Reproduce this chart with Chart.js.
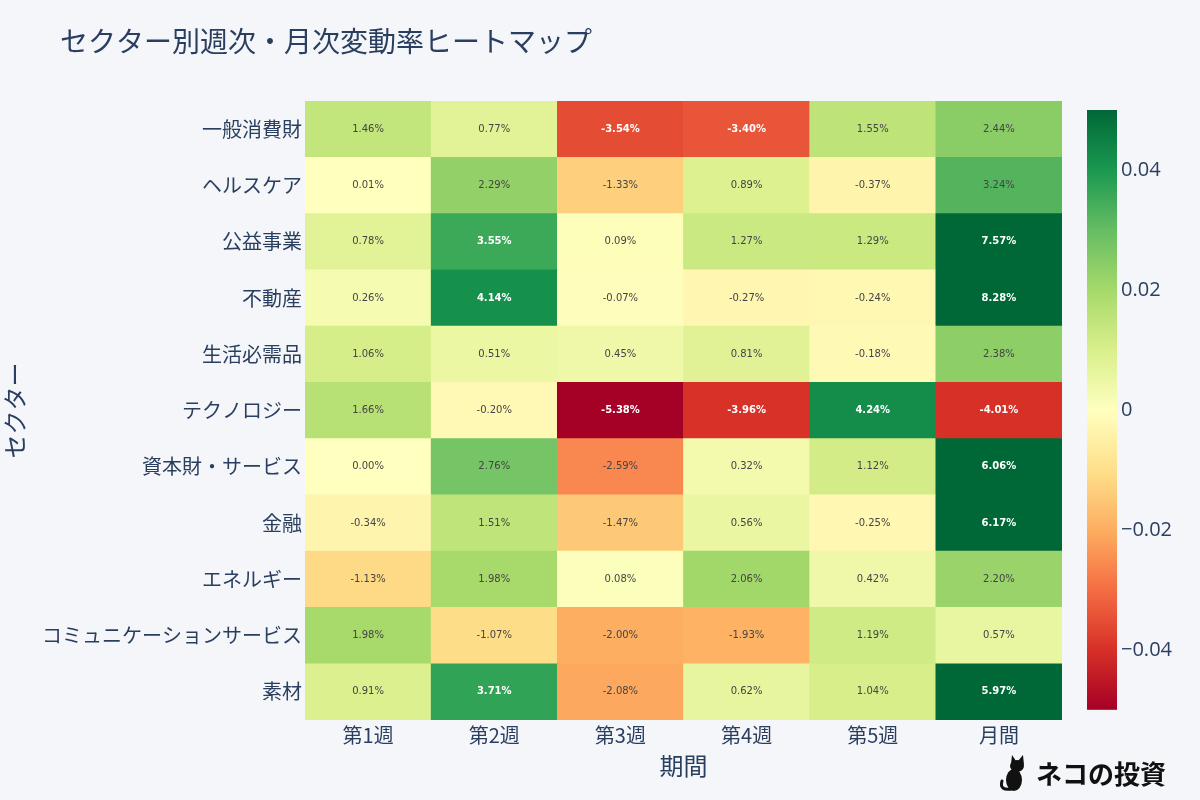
<!DOCTYPE html>
<html lang="ja">
<head>
<meta charset="utf-8">
<title>セクター別週次・月次変動率ヒートマップ</title>
<script src="https://cdn.jsdelivr.net/npm/chart.js@4.4.1/dist/chart.umd.min.js"></script>
<style>
  html, body { margin: 0; padding: 0; background: #f4f6fa; }
  #wrap { width: 1200px; height: 800px; }
</style>
</head>
<body>
<div id="wrap"><canvas id="heat" width="1200" height="800"></canvas></div>
<script>
// ── DATA ───────────────────────────────────────────────────────
const periods = ['第1週', '第2週', '第3週', '第4週', '第5週', '月間'];
const sectors = ['一般消費財', 'ヘルスケア', '公益事業', '不動産', '生活必需品', 'テクノロジー',
  '資本財・サービス', '金融', 'エネルギー', 'コミュニケーションサービス', '素材'];   // top → bottom

// % change per period, same order as sectors
const week1   = [1.46, 0.01, 0.78, 0.26, 1.06, 1.66, 0.00, -0.34, -1.13, 1.98, 0.91];
const week2   = [0.77, 2.29, 3.55, 4.14, 0.51, -0.20, 2.76, 1.51, 1.98, -1.07, 3.71];
const week3   = [-3.54, -1.33, 0.09, -0.07, 0.45, -5.38, -2.59, -1.47, 0.08, -2.00, -2.08];
const week4   = [-3.40, 0.89, 1.27, -0.27, 0.81, -3.96, 0.32, 0.56, 2.06, -1.93, 0.62];
const week5   = [1.55, -0.37, 1.29, -0.24, -0.18, 4.24, 1.12, -0.25, 0.42, 1.19, 1.04];
const monthly = [2.44, 3.24, 7.57, 8.28, 2.38, -4.01, 6.06, 6.17, 2.20, 0.57, 5.97];

const colorTicks      = [0.04, 0.02, 0, -0.02, -0.04];
const colorTickLabels = ['0.04', '0.02', '0', '−0.02', '−0.04'];
const zMin = -0.05, zMax = 0.05;

// ── COLOURS ────────────────────────────────────────────────────
const INK = '#2a3f5f';
const FONT = '"Noto Sans CJK JP", "Open Sans", sans-serif';
const RDYLGN = [
  [165, 0, 38], [215, 48, 39], [244, 109, 67], [253, 174, 97], [254, 224, 139], [255, 255, 191],
  [217, 239, 139], [166, 217, 106], [102, 189, 99], [26, 152, 80], [0, 104, 55]
];

function heatRgb(pct) {
  let t = (pct / 100 - zMin) / (zMax - zMin);
  t = Math.max(0, Math.min(1, t)) * (RDYLGN.length - 1);
  const i = Math.min(Math.floor(t), RDYLGN.length - 2), f = t - i;
  return RDYLGN[i].map((c, k) => Math.round(c + (RDYLGN[i + 1][k] - c) * f));
}
const heatColor = v => { const [r, g, b] = heatRgb(v); return `rgb(${r},${g},${b})`; };
const isDark = v => { const [r, g, b] = heatRgb(v); return 0.299 * r + 0.587 * g + 0.114 * b < 135; };

// ── DATASETS (one per row, bottom row first) ───────────────────
const columns = [week1, week2, week3, week4, week5, monthly];
const rowOrder = sectors.map((_, i) => sectors.length - 1 - i);
const datasets = rowOrder.map(r => {
  const rates = columns.map(c => c[r]);
  return {
    label: sectors[r],
    rates,
    data: rates.map(() => 1),
    backgroundColor: rates.map(heatColor),
    borderWidth: 0,
    barPercentage: 1,
    categoryPercentage: 1
  };
});

// ── PLUGINS ────────────────────────────────────────────────────
const cellText = {
  id: 'cellText',
  afterDatasetsDraw(chart) {
    const ctx = chart.ctx;
    ctx.save();
    ctx.textAlign = 'center';
    ctx.textBaseline = 'middle';
    chart.data.datasets.forEach((ds, di) => {
      chart.getDatasetMeta(di).data.forEach((bar, j) => {
        const v = ds.rates[j];
        const dark = isDark(v);
        ctx.font = (dark ? 'bold ' : '') + '10px "DejaVu Sans", Verdana, sans-serif';
        ctx.fillStyle = dark ? '#ffffff' : '#444444';
        ctx.fillText(v.toFixed(2) + '%', bar.x, (bar.y + bar.base) / 2);
      });
    });
    ctx.restore();
  }
};

const colorBar = {
  id: 'colorBar',
  afterDraw(chart) {
    const ctx = chart.ctx, s = chart.scales.cb;
    const top = s.getPixelForValue(zMax), bottom = s.getPixelForValue(zMin);
    const grad = ctx.createLinearGradient(0, bottom, 0, top);
    RDYLGN.forEach((c, i) => grad.addColorStop(i / (RDYLGN.length - 1), `rgb(${c.join(',')})`));
    ctx.save();
    ctx.fillStyle = grad;
    ctx.fillRect(1087, top, 30, bottom - top);
    ctx.restore();
  }
};

const decorations = {
  id: 'decorations',
  afterDraw(chart) {
    const ctx = chart.ctx;
    ctx.save();
    // title
    ctx.fillStyle = INK;
    ctx.font = '28px ' + FONT;
    ctx.textAlign = 'left';
    ctx.textBaseline = 'middle';
    ctx.fillText('セクター別週次・月次変動率ヒートマップ', 60, 41);

    // watermark: little black cat + name
    ctx.fillStyle = '#111';
    ctx.strokeStyle = '#111';
    ctx.lineWidth = 3;
    ctx.lineCap = 'round';
    ctx.beginPath();
    ctx.moveTo(1012, 789); ctx.quadraticCurveTo(999, 791, 1002, 781);
    ctx.stroke();
    ctx.beginPath(); ctx.ellipse(1014, 780, 8, 11, 0, 0, Math.PI * 2); ctx.fill();
    ctx.beginPath(); ctx.ellipse(1017, 766, 7, 6, 0, 0, Math.PI * 2); ctx.fill();
    ctx.beginPath(); ctx.moveTo(1011, 764); ctx.lineTo(1012, 755); ctx.lineTo(1016, 761); ctx.fill();
    ctx.beginPath(); ctx.moveTo(1018, 761); ctx.lineTo(1023, 755); ctx.lineTo(1024, 765); ctx.fill();
    ctx.font = 'bold 26px ' + FONT;
    ctx.fillText('ネコの投資', 1036, 774);
    ctx.restore();
  }
};

// ── CHART ──────────────────────────────────────────────────────
const tickFont = { family: FONT, size: 20 };

new Chart(document.getElementById('heat').getContext('2d'), {
  type: 'bar',
  data: { labels: periods, datasets },
  options: {
    responsive: false,
    animation: false,
    layout: { padding: { top: 101, left: 0, right: 0, bottom: 0 } },
    plugins: { legend: { display: false }, tooltip: { enabled: false } },
    scales: {
      x: {
        stacked: true,
        grid: { display: false, drawTicks: false },
        border: { display: false },
        ticks: { color: INK, font: tickFont, padding: 3 },
        title: { display: true, text: '期間', color: INK, font: { family: FONT, size: 24 }, padding: { top: 0, bottom: 20 } },
        afterFit: s => { s.height = 80; }
      },
      y: {
        type: 'linear',
        stacked: true,
        min: 0,
        max: sectors.length,
        grid: { display: false, drawTicks: false },
        border: { display: false },
        afterBuildTicks: s => { s.ticks = rowOrder.map((_, i) => ({ value: i + 0.5 })); },
        ticks: { autoSkip: false, color: INK, font: tickFont, padding: 3, callback: (v, i) => sectors[rowOrder[i]] },
        title: { display: true, text: 'セクター', color: INK, font: { family: FONT, size: 24 }, padding: 0 },
        afterFit: s => { s.width = 305; }
      },
      cb: {
        type: 'linear',
        position: 'right',
        // colour bar is inset ~10px from the plot area, so the axis runs a bit past ±0.05
        min: -0.0517,
        max: 0.0515,
        grid: { display: false, drawTicks: false },
        border: { display: false },
        afterBuildTicks: s => { s.ticks = colorTicks.map(v => ({ value: v })); },
        ticks: { color: INK, font: { family: '"Open Sans", sans-serif', size: 20 }, padding: 59, callback: (v, i) => colorTickLabels[i] },
        afterFit: s => { s.width = 138; }
      }
    }
  },
  plugins: [cellText, colorBar, decorations]
});
</script>
</body>
</html>
